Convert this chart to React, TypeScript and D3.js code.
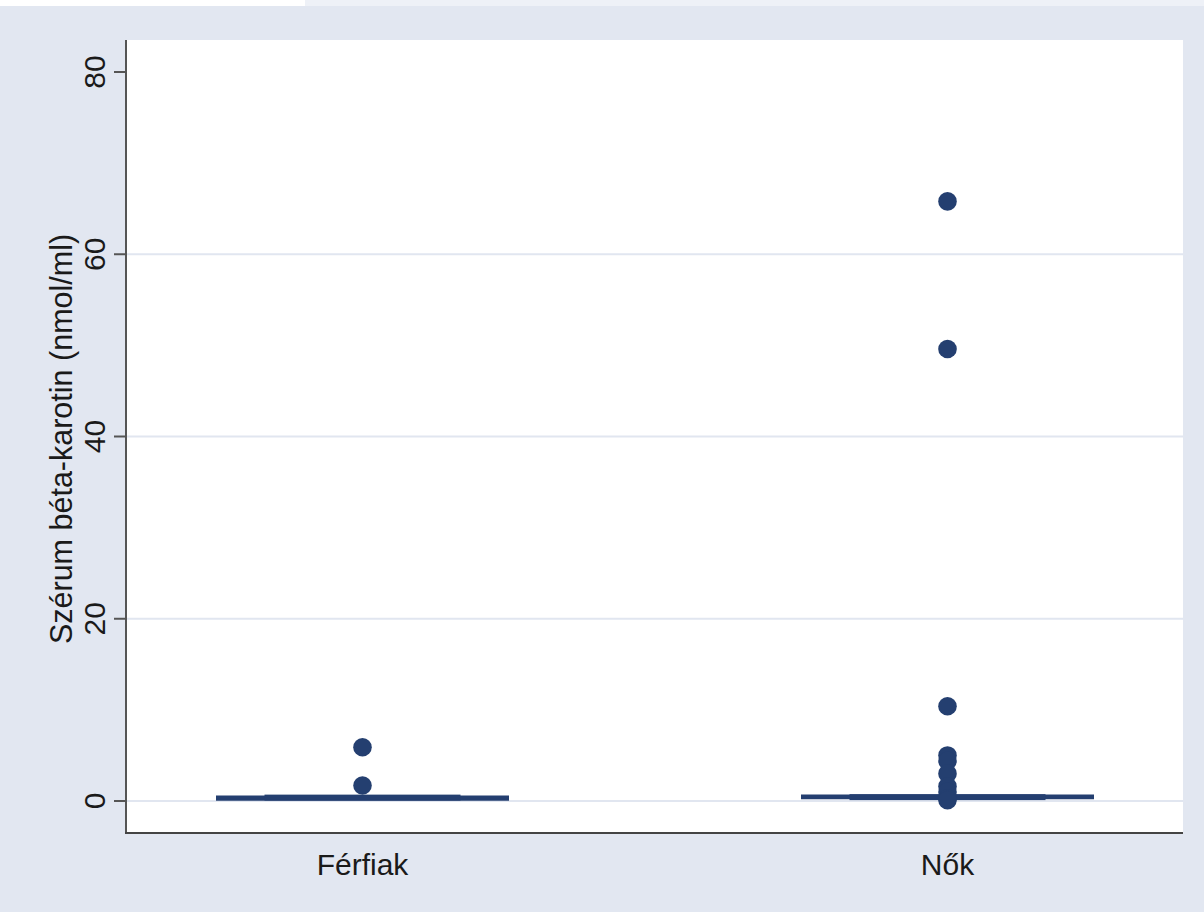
import React from "react";
import * as d3 from "d3";

const categories = ["Férfiak", "Nők"];
// box statistics per category: [lowerWhisker, q1, median, q3, upperWhisker]
const boxStats: number[][] = [
  [0.2, 0.05, 0.3, 0.7, 0.45],
  [0.35, 0.1, 0.4, 0.75, 0.55],
];
const outliersFerfiak = [5.9, 1.7];
const outliersNok = [65.8, 49.6, 10.4, 5.0, 4.4, 3.0, 1.6, 1.0, 0.3, 0.1];
const yTicks = [0, 20, 40, 60, 80];
const yLabel = "Szérum béta-karotin (nmol/ml)";

const W = 1204;
const H = 912;
const left = 126, right = 1183, top = 40, bottom = 833;
const navy = "#243f70";

export default function App() {
  const y = d3.scaleLinear().domain([0, 80]).range([801, 72]);
  const x = d3.scaleBand().domain(categories).range([70, 1240]).padding(0);
  const boxW = 196;
  const capW = 293;
  const outliers = [outliersFerfiak, outliersNok];
  return (
    <svg width={W} height={H} style={{ position: "absolute", left: 0, top: 0 }} fontFamily="'Liberation Sans', Arial, sans-serif">
      <rect x={0} y={0} width={W} height={H} fill="#e2e7f1" />
      <rect x={0} y={0} width={305} height={6} fill="#ffffff" />
      <rect x={305} y={0} width={W - 305} height={6} fill="#eef1f7" />
      <rect x={left} y={top} width={right - left} height={bottom - top} fill="#ffffff" />
      {yTicks.filter((t) => t < 80).map((t) => (
        <line key={"g" + t} x1={left + 1} x2={right} y1={y(t)} y2={y(t)} stroke="#e1e6f0" strokeWidth={2} />
      ))}
      {categories.map((c, i) => {
        const cx = (x(c) as number) + x.bandwidth() / 2;
        const [lw, q1, med, q3, uw] = boxStats[i];
        return (
          <g key={c}>
            <line x1={cx - capW / 2} x2={cx + capW / 2} y1={y(lw)} y2={y(lw)} stroke={navy} strokeWidth={3} />
            <line x1={cx - capW / 2} x2={cx + capW / 2} y1={y(uw)} y2={y(uw)} stroke={navy} strokeWidth={3} />
            <rect x={cx - boxW / 2} y={y(q3)} width={boxW} height={y(q1) - y(q3)} fill={navy} />
            <line x1={cx - boxW / 2} x2={cx + boxW / 2} y1={y(med)} y2={y(med)} stroke={navy} strokeWidth={2} />
            {outliers[i].map((v, j) => (
              <circle key={j} cx={cx} cy={y(v)} r={9.3} fill={navy} />
            ))}
          </g>
        );
      })}
      <line x1={left} x2={left} y1={top} y2={bottom + 1} stroke="#555555" strokeWidth={2} />
      <line x1={left - 1} x2={right} y1={bottom} y2={bottom} stroke="#444444" strokeWidth={2} />
      {yTicks.map((t) => (
        <g key={"t" + t}>
          <line x1={left - 12} x2={left} y1={y(t)} y2={y(t)} stroke="#555555" strokeWidth={2} />
          <text transform={`translate(105,${y(t)}) rotate(-90)`} textAnchor="middle" fontSize={30} fill="#1a1a1a">
            {t}
          </text>
        </g>
      ))}
      <text transform={`translate(72,439) rotate(-90)`} textAnchor="middle" fontSize={30.5} fill="#1a1a1a">
        {yLabel}
      </text>
      {categories.map((c) => (
        <text key={"x" + c} x={(x(c) as number) + x.bandwidth() / 2} y={875} textAnchor="middle" fontSize={30} fill="#1a1a1a">
          {c}
        </text>
      ))}
    </svg>
  );
}
